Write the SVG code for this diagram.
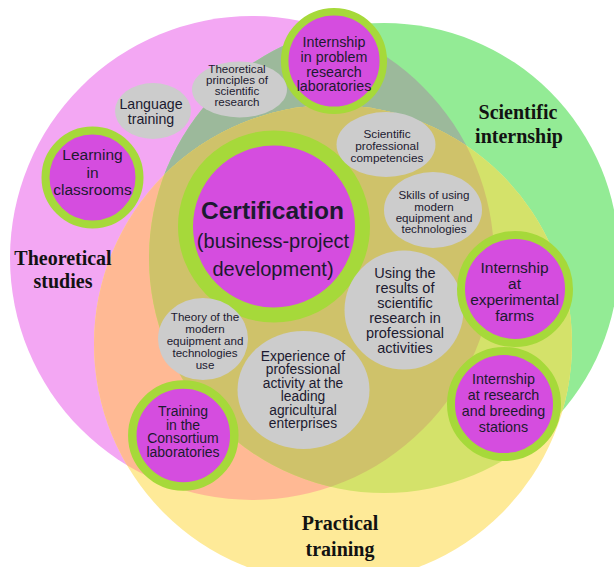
<svg xmlns="http://www.w3.org/2000/svg" width="614" height="567" viewBox="0 0 614 567">
<defs>
<style>
.t{font-family:"Liberation Sans",Arial,sans-serif;fill:#1c1a30;text-anchor:middle}
.lbl{font-family:"Liberation Serif","Times New Roman",serif;font-weight:bold;font-size:20px;fill:#121212;text-anchor:middle}
.ring{fill:#d54ddf;stroke:#a6d93a}
.grey{fill:#cccccc}
</style>
<clipPath id="cP"><circle cx="252" cy="258" r="242"/></clipPath>
<clipPath id="cG"><circle cx="384" cy="258" r="235"/></clipPath>
</defs>
<rect width="614" height="567" fill="#ffffff"/>
<g id="sets">
<circle id="set-theoretical" cx="252" cy="258" r="242" fill="#f3a7f3"/>
<circle id="set-scientific" cx="384" cy="258" r="235" fill="#93eb95"/>
<circle id="set-practical" cx="333" cy="344" r="239" fill="#feea98"/>
<g clip-path="url(#cP)"><circle cx="384" cy="258" r="235" fill="#9cb99b"/></g>
<g clip-path="url(#cP)"><circle cx="333" cy="344" r="239" fill="#ffb994"/></g>
<g clip-path="url(#cG)"><circle cx="333" cy="344" r="239" fill="#d4e26a"/></g>
<g clip-path="url(#cP)"><g clip-path="url(#cG)"><circle cx="333" cy="344" r="239" fill="#cfc26a"/></g></g>
</g>
<g id="set-labels">
<text class="lbl"><tspan x="63" y="265">Theoretical</tspan><tspan x="63" y="288">studies</tspan></text>
<text class="lbl"><tspan x="518" y="119">Scientific</tspan><tspan x="519" y="143">internship</tspan></text>
<text class="lbl"><tspan x="340" y="530">Practical</tspan><tspan x="340" y="556">training</tspan></text>
</g>
<g id="connectors"></g>
<g id="n-lab">
<circle class="ring" cx="334" cy="61" r="49.3" stroke-width="7.5"/>
<text class="t" font-size="14.3"><tspan x="334" y="47">Internship</tspan><tspan x="334" y="62">in problem</tspan><tspan x="334" y="76.5">research</tspan><tspan x="334" y="91">laboratories</tspan></text>
</g>
<g id="n-principles">
<ellipse class="grey" cx="239.5" cy="89.5" rx="47.5" ry="28"/>
<text class="t" font-size="11.6"><tspan x="237" y="73">Theoretical</tspan><tspan x="237" y="83.7">principles of</tspan><tspan x="237" y="94.7">scientific</tspan><tspan x="237" y="106">research</tspan></text>
</g>
<g id="n-language">
<ellipse class="grey" cx="153" cy="111" rx="38" ry="28"/>
<text class="t" font-size="14.2"><tspan x="151" y="109">Language</tspan><tspan x="151" y="124">training</tspan></text>
</g>
<g id="n-classrooms">
<circle class="ring" cx="92.5" cy="177.5" r="47" stroke-width="8"/>
<text class="t" font-size="15.5"><tspan x="92.5" y="160">Learning</tspan><tspan x="92.5" y="177.5">in</tspan><tspan x="92.5" y="195">classrooms</tspan></text>
</g>
<g id="n-certification">
<circle class="ring" cx="274" cy="226.5" r="88.5" stroke-width="15"/>
<text class="t" font-size="24.5" font-weight="bold" fill="#111"><tspan x="272.5" y="218.5">Certification</tspan></text>
<text class="t" font-size="20"><tspan x="273" y="248">(business-project</tspan><tspan x="273" y="275.5">development)</tspan></text>
</g>
<g id="n-competencies">
<ellipse class="grey" cx="386" cy="144.5" rx="49.5" ry="32.5"/>
<text class="t" font-size="11.8"><tspan x="387" y="138.3">Scientific</tspan><tspan x="387" y="150.3">professional</tspan><tspan x="387" y="162.3">competencies</tspan></text>
</g>
<g id="n-skills">
<ellipse class="grey" cx="433" cy="210" rx="49" ry="38"/>
<text class="t" font-size="11.6"><tspan x="434" y="199.3">Skills of using</tspan><tspan x="434" y="210.5">modern</tspan><tspan x="434" y="221.8">equipment and</tspan><tspan x="434" y="233">technologies</tspan></text>
</g>
<g id="n-using">
<circle class="grey" cx="404" cy="310" r="59.5"/>
<text class="t" font-size="14.5"><tspan x="405" y="278">Using the</tspan><tspan x="405" y="293">results of</tspan><tspan x="405" y="308">scientific</tspan><tspan x="405" y="323">research in</tspan><tspan x="405" y="338">professional</tspan><tspan x="405" y="353">activities</tspan></text>
</g>
<g id="n-farms">
<circle class="ring" cx="515" cy="289" r="54" stroke-width="8"/>
<text class="t" font-size="15.5"><tspan x="514.5" y="273">Internship</tspan><tspan x="514.5" y="289">at</tspan><tspan x="514.5" y="305">experimental</tspan><tspan x="514.5" y="321">farms</tspan></text>
</g>
<g id="n-stations">
<circle class="ring" cx="504" cy="404" r="53" stroke-width="8"/>
<text class="t" font-size="14.3"><tspan x="503.5" y="384">Internship</tspan><tspan x="503.5" y="400">at research</tspan><tspan x="503.5" y="416">and breeding</tspan><tspan x="503.5" y="432">stations</tspan></text>
</g>
<g id="n-theory">
<ellipse class="grey" cx="203" cy="339" rx="45" ry="41"/>
<text class="t" font-size="11.6"><tspan x="205" y="321.3">Theory of the</tspan><tspan x="205" y="333.2">modern</tspan><tspan x="205" y="345.1">equipment and</tspan><tspan x="205" y="357">technologies</tspan><tspan x="205" y="369">use</tspan></text>
</g>
<g id="n-experience">
<ellipse class="grey" cx="303.5" cy="390" rx="66" ry="59"/>
<text class="t" font-size="13.8"><tspan x="303" y="360.5">Experience of</tspan><tspan x="303" y="374">professional</tspan><tspan x="303" y="387.5">activity at the</tspan><tspan x="303" y="401">leading</tspan><tspan x="303" y="414.5">agricultural</tspan><tspan x="303" y="428">enterprises</tspan></text>
</g>
<g id="n-consortium">
<circle class="ring" cx="183.3" cy="435.5" r="51" stroke-width="8.5"/>
<text class="t" font-size="14"><tspan x="183" y="416.3">Training</tspan><tspan x="183" y="429.8">in the</tspan><tspan x="183" y="443.3">Consortium</tspan><tspan x="183" y="457">laboratories</tspan></text>
</g>
</svg>
